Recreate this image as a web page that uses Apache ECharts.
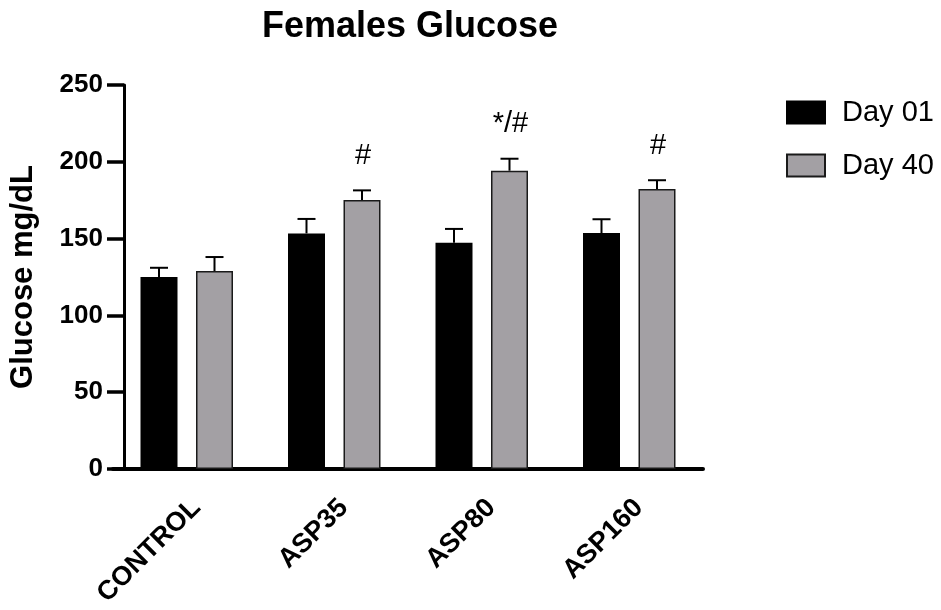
<!DOCTYPE html>
<html>
<head>
<meta charset="utf-8">
<title>Females Glucose</title>
<script src="https://cdn.jsdelivr.net/npm/echarts@6/dist/echarts.min.js"></script>
<style>
  html, body { margin: 0; padding: 0; background: #ffffff; }
  #chart { width: 941px; height: 610px; }
</style>
</head>
<body>
<div id="chart"></div>
<script>
// Groups and measurements (mean and SEM, mg/dL)
const groups = ['CONTROL', 'ASP35', 'ASP80', 'ASP160'];
const seriesNames = ['Day 01', 'Day 40'];
const day01Mean = [125, 153.4, 147.3, 153.6];
const day01Sem = [6, 9.4, 9, 9];
const day40Mean = [128.9, 175.1, 194.2, 182.3];
const day40Sem = [9.1, 6.3, 7.8, 5.7];
// Significance marks drawn above the Day 40 bars
const day40Marks = ['', '#', '*/#', '#'];
const yTicks = [0, 50, 100, 150, 200, 250];

const FONT = '"Liberation Sans", Arial, sans-serif';
const BAR_W = 37;
const BAR_GAP = 0.5;
const HALF_STEP = BAR_W * (1 + BAR_GAP) / 2;

function errorSeries(name, means, sems, marks, side) {
  return {
    name: name,
    type: 'custom',
    z: 5,
    silent: true,
    data: means.map((m, i) => [i, m, sems[i]]),
    encode: { x: 0, y: 1 },
    renderItem: function (params, api) {
      const idx = api.value(0);
      const mean = api.value(1);
      const sem = api.value(2);
      const mark = marks ? marks[idx] : '';
      const base = api.coord([idx, mean]);
      const top = api.coord([idx, mean + sem]);
      const x = base[0] + side * HALF_STEP;
      const style = { stroke: '#000', lineWidth: 2 };
      const children = [
        { type: 'line', shape: { x1: x, y1: base[1], x2: x, y2: top[1] }, style: style },
        { type: 'line', shape: { x1: x - 9, y1: top[1], x2: x + 9, y2: top[1] }, style: style }
      ];
      if (mark) {
        children.push({
          type: 'text',
          style: {
            text: mark, x: x + 1, y: top[1] - 20,
            align: 'center', verticalAlign: 'bottom',
            fontSize: 29, fontFamily: FONT, fill: '#000'
          }
        });
      }
      return { type: 'group', children: children };
    }
  };
}

const chart = echarts.init(document.getElementById('chart'), null, { renderer: 'canvas' });
chart.setOption({
  animation: false,
  backgroundColor: '#ffffff',
  title: {
    text: 'Females Glucose',
    left: 257,
    top: 4,
    textStyle: { fontFamily: FONT, fontWeight: 'bold', fontSize: 36, color: '#000' }
  },
  legend: {
    data: seriesNames,
    orient: 'vertical',
    left: 781,
    top: 93,
    itemWidth: 38,
    itemHeight: 22,
    itemGap: 24,
    icon: 'rect',
    textStyle: { fontFamily: FONT, fontSize: 29, color: '#000', padding: [0, 0, 0, 12] }
  },
  grid: { left: 112, width: 591, top: 85, bottom: 141, containLabel: false },
  xAxis: {
    type: 'category',
    data: groups,
    axisLine: { lineStyle: { color: '#000', width: 4 } },
    axisTick: { alignWithLabel: true, length: 15, lineStyle: { color: '#000', width: 3.5 } },
    axisLabel: {
      rotate: 45, margin: 25, verticalAlign: 'top',
      fontFamily: FONT, fontWeight: 'bold', fontSize: 27, color: '#000'
    },
    splitLine: { show: false }
  },
  yAxis: {
    type: 'value',
    min: yTicks[0],
    max: yTicks[yTicks.length - 1],
    interval: yTicks[1] - yTicks[0],
    offset: -11,
    name: 'Glucose mg/dL',
    nameLocation: 'middle',
    nameRotate: 90,
    nameGap: 85,
    nameTextStyle: { fontFamily: FONT, fontWeight: 'bold', fontSize: 31, color: '#000' },
    axisLine: { show: true, lineStyle: { color: '#000', width: 3 } },
    axisTick: { show: true, length: 17, lineStyle: { color: '#000', width: 3.5 } },
    axisLabel: { margin: 21, fontFamily: FONT, fontWeight: 'bold', fontSize: 26, color: '#000' },
    splitLine: { show: false }
  },
  series: [
    {
      name: seriesNames[0],
      type: 'bar',
      data: day01Mean,
      barWidth: BAR_W,
      barGap: (BAR_GAP * 100) + '%',
      itemStyle: { color: '#000000', borderColor: '#000000', borderWidth: 1.5 }
    },
    {
      name: seriesNames[1],
      type: 'bar',
      data: day40Mean,
      barWidth: BAR_W,
      barGap: (BAR_GAP * 100) + '%',
      itemStyle: { color: '#a3a0a4', borderColor: '#1a1a1a', borderWidth: 1.5 }
    },
    errorSeries('Day 01 SEM', day01Mean, day01Sem, null, -1),
    errorSeries('Day 40 SEM', day40Mean, day40Sem, day40Marks, 1)
  ]
});
</script>
</body>
</html>
